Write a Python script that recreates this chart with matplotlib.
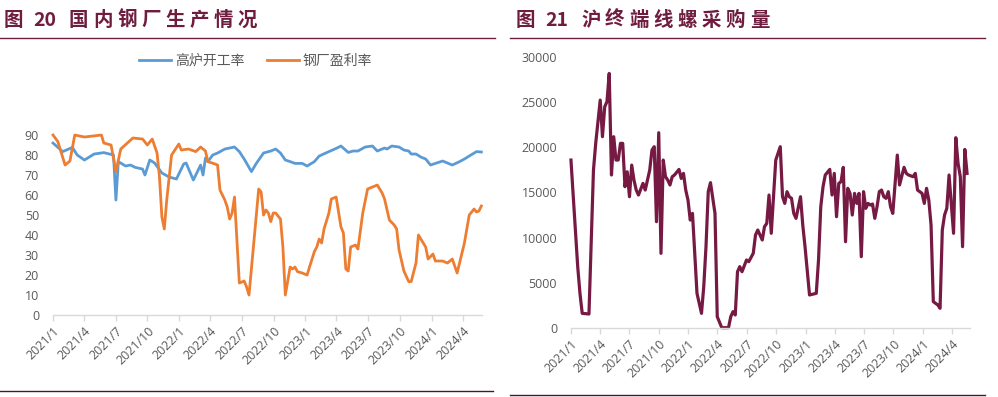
import numpy as np
import pandas as pd
import matplotlib
matplotlib.use('Agg')
import matplotlib.pyplot as plt
import matplotlib.dates as mdates
from matplotlib.lines import Line2D

plt.rcParams['font.family'] = ['Open Sans', 'Noto Sans CJK SC', 'DejaVu Sans']

start = pd.Timestamp('2021-01-01')

# 高炉开工率 (week number, value)
bf_week = [0, 4, 8, 10, 13, 17, 21, 25, 26, 27, 30, 32, 34, 37, 38, 40, 42, 45, 48, 51,
           54, 55, 58, 61, 62, 63, 64, 66, 68, 71, 75, 77, 79, 82, 84, 87, 90, 92, 94,
           96, 98, 100, 103, 105, 108, 110, 114, 117, 119, 122, 124, 126, 129, 132, 134,
           137, 138, 140, 143, 145, 147, 148, 150, 152, 154, 156, 158, 161, 163, 165,
           168, 170, 172, 175, 177]
bf_rate = [86, 81.7, 83.8, 80, 77.5, 80.5, 81.2, 80, 57.5, 76.7, 74.5, 75, 73.8, 73, 70,
           77.5, 76, 71, 69, 68, 75.5, 76, 67.5, 75, 70, 78.5, 76.7, 80, 81, 83, 84,
           81.7, 78, 71.7, 75.8, 81, 82, 83, 81, 77.5, 76.7, 75.8, 75.8, 74.5, 76.7,
           79.5, 81.7, 83.3, 84.5, 81.3, 82, 82, 84, 84.5, 82, 83.5, 83, 84.5, 84, 82.5,
           82, 80.5, 80.5, 79, 78, 75, 75.8, 77, 76, 75, 76.7, 78, 79.5, 81.7, 81.5]

# 钢厂盈利率 (week number, value)
pf_week = [0, 2, 5, 7, 9, 13, 20, 21, 24, 26, 28, 33, 37, 39, 41, 43, 44, 45, 46, 47,
           49, 52, 53, 56, 59, 61, 63, 64, 67, 68, 69, 71, 72, 73, 74, 75, 77, 79, 80,
           81, 85, 86, 87, 88, 89, 90, 91, 92, 94, 95, 96, 98, 99, 100, 101, 103, 105,
           106, 108, 109, 110, 111, 112, 114, 115, 117, 119, 120, 121, 122, 123, 125,
           126, 128, 130, 132, 134, 136, 137, 139, 141, 142, 143, 145, 147, 148, 150,
           151, 152, 154, 155, 157, 158, 161, 163, 165, 167, 170, 171, 172, 174, 175,
           176, 177]
pf_rate = [90, 86.7, 75, 77, 90, 89, 90, 86, 85, 71.7, 83, 88.5, 88, 85, 88, 81, 69, 49,
           43, 57.5, 80, 85.5, 82.5, 83, 81.7, 84, 82, 76.7, 75.5, 75, 62.5, 57.5, 54,
           48, 51, 59, 16, 17, 14, 10, 63, 61.5, 50, 52.5, 51, 46.7, 51, 51, 48, 34, 10,
           24, 23, 24, 21.7, 21, 20, 24, 31.7, 34, 38, 36, 43, 51, 58, 59, 44, 41, 23,
           22, 34, 35, 33, 51, 63, 64, 65, 61, 58, 47.5, 45, 43, 32.5, 22, 16.7, 16.7,
           26, 40, 38, 34, 28, 30.5, 27, 27, 26, 28, 21, 36, 43, 50, 53, 51.5, 52, 54.5]

# 沪终端线螺采购量 (week number, tons)
bp_week = [0, 3, 4, 5, 8, 10, 11, 13, 14, 15, 16, 17, 18, 19, 20, 21, 22, 23, 24, 25,
           26, 27, 28, 29, 30, 32, 33, 35, 36, 37, 38, 39, 40, 41, 42, 43, 44, 45, 46,
           48, 49, 50, 51, 52, 53, 54, 56, 58, 59, 60, 61, 62, 64, 65, 67, 70, 71, 72,
           73, 74, 75, 76, 78, 79, 81, 82, 83, 85, 86, 87, 88, 89, 91, 93, 94, 95, 96,
           97, 98, 99, 100, 102, 103, 104, 106, 109, 110, 111, 112, 113, 115, 116, 117,
           118, 119, 120, 121, 122, 123, 124, 125, 126, 127, 128, 129, 130, 131, 132,
           133, 134, 135, 136, 137, 138, 139, 140, 141, 142, 143, 145, 146, 148, 149,
           150, 152, 153, 154, 155, 156, 157, 158, 159, 160, 161, 163, 164, 165, 166,
           167, 168, 170, 171, 172, 173, 174, 175, 176]
bp_vol = [18600, 6770, 3810, 1590, 1520, 17490, 20450, 25250, 21190, 24510, 25070,
          28210, 16940, 21190, 18600, 18600, 20450, 20450, 15640, 17300, 14530, 18040,
          16380, 15270, 14720, 16010, 15270, 17490, 19710, 20080, 11760, 21630, 8250,
          18600, 16750, 16380, 15830, 16750, 16940, 17560, 16560, 17120, 15270, 14160,
          11940, 12680, 3810, 1590, 4550, 8990, 15090, 16090, 12680, 1220, 0, 0, 1220,
          1780, 1410, 6210, 6770, 6210, 7510, 7320, 8250, 10280, 10840, 9730, 11210,
          11570, 14720, 10470, 18600, 20080, 14530, 13790, 15090, 14530, 14350, 12680,
          12130, 14530, 11390, 8990, 3630, 3810, 7510, 13420, 15640, 16940, 17560,
          14720, 17120, 12310, 16010, 16200, 17790, 9540, 15460, 14900, 12500, 14900,
          13790, 14900, 7880, 15090, 13240, 13790, 13610, 13720, 12130, 13420, 15090,
          15270, 14530, 14350, 15090, 13420, 12680, 19150, 15830, 17790, 17120, 16940,
          16750, 17120, 15270, 15090, 14900, 13790, 15460, 14160, 11390, 2890, 2520,
          2150, 10840, 12500, 13240, 16940, 10470, 21080, 18230, 16750, 8990, 19780,
          17120]

tick_dates = pd.date_range('2021-01-01', '2024-04-01', freq='3MS')
tick_labels = [f'{d.year}/{d.month}' for d in tick_dates]


def to_dates(weeks):
    return start + pd.to_timedelta(np.array(weeks) * 7, unit='D')


title_color = '#6F1D3F'
text_gray = '#595959'
axis_gray = '#D9D9D9'


def style_axis(ax, ylim, yticks):
    for s in ['top', 'right', 'left']:
        ax.spines[s].set_visible(False)
    ax.spines['bottom'].set_color(axis_gray)
    ax.spines['bottom'].set_linewidth(1.0)
    ax.set_ylim(*ylim)
    ax.set_yticks(yticks)
    ax.set_xlim(start, start + pd.Timedelta(days=7 * 177 + 2))
    ax.set_xticks(tick_dates)
    ax.set_xticklabels(tick_labels, rotation=45, ha='right', va='top',
                       rotation_mode='anchor')
    ax.tick_params(axis='x', colors=axis_gray, length=4, width=1.0,
                   labelcolor=text_gray, labelsize=9, pad=3)
    ax.tick_params(axis='y', length=0, labelcolor=text_gray, labelsize=9, pad=10)
    ax.patch.set_alpha(0)


def spaced_title(x0, num, words):
    # letter-spaced title like the report's headers
    kw = dict(fontsize=14, fontweight='bold', color=title_color, va='center',
              ha='left', family=['Noto Sans CJK SC'])
    y = 0.949
    fig.text(x0 / 998, y, '图', **kw)
    fig.text((x0 + 29) / 998, y, num, **kw)
    for i, ch in enumerate(words):
        fig.text((x0 + 65 + 24.1 * i) / 998, y, ch, **kw)


fig = plt.figure(figsize=(9.98, 3.97), dpi=100)

# left chart
ax1 = fig.add_axes([0.0531, 0.2065, 0.4299, 0.4534])
ax1.plot(to_dates(bf_week), bf_rate, color='#5B9BD5', lw=2.0, label='高炉开工率')
ax1.plot(to_dates(pf_week), pf_rate, color='#ED7D31', lw=2.0, label='钢厂盈利率')
style_axis(ax1, (0, 90), range(0, 91, 10))
for ln in ax1.lines:
    ln.set_clip_on(False)
fig.legend(handles=ax1.lines, loc='center', bbox_to_anchor=(0.256, 0.845),
           ncol=2, frameon=False, fontsize=10, labelcolor=text_gray,
           handlelength=2.3, columnspacing=1.6, handletextpad=0.3)

# right chart
ax2 = fig.add_axes([0.5721, 0.1746, 0.3998, 0.6811])
ax2.plot(to_dates(bp_week), bp_vol, color='#761A44', lw=2.3)
style_axis(ax2, (0, 30000), range(0, 30001, 5000))
for ln in ax2.lines:
    ln.set_clip_on(False)

# titles and rules
spaced_title(4, '20', '国内钢厂生产情况')
spaced_title(516, '21', '沪终端线螺采购量')
fig.add_artist(Line2D([0.0, 0.496], [0.904, 0.904], color=title_color, lw=1.0))
fig.add_artist(Line2D([0.511, 0.987], [0.904, 0.904], color=title_color, lw=1.0))
fig.add_artist(Line2D([0.0, 0.494], [0.016, 0.016], color='#4A1530', lw=1.0))
fig.add_artist(Line2D([0.511, 0.987], [0.006, 0.006], color='#4A1530', lw=1.0))

fig.savefig('out.png', dpi=100)
